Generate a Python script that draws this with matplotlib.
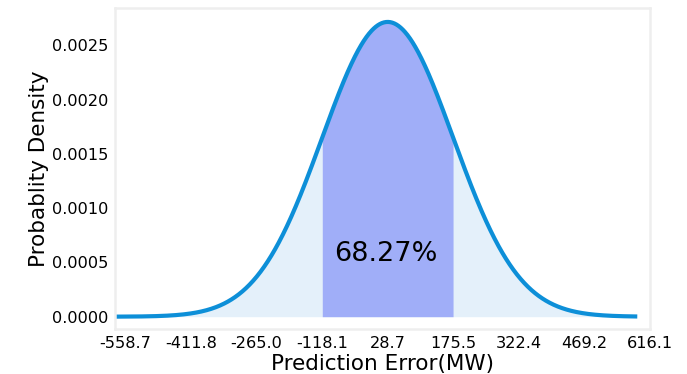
#!/usr/bin/env python3
"""
plot.py

Normal distribution of prediction error, 1-sigma band shaded.
"""

import matplotlib
matplotlib.use("Agg")
import matplotlib.pyplot as plt
import numpy as np

# values
mean_error = 28.7
std_error = 146.85
curve_start = -578.0
curve_end = 583.0
tick_values = [-558.7, -411.8, -265.0, -118.1, 28.7, 175.5, 322.4, 469.2, 616.1]
tick_labels = ["-558.7", "-411.8", "-265.0", "-118.1", "28.7", "175.5", "322.4", "469.2", "616.1"]
band_label = "68.27%"

LINE_COLOR = "#0d8fd8"
BAND_COLOR = "#a0aef8"
TAIL_COLOR = "#e4f0fa"


def normal_pdf(x, mu, sigma):
    return np.exp(-0.5 * ((x - mu) / sigma) ** 2) / (sigma * np.sqrt(2 * np.pi))


def main():
    x = np.linspace(curve_start, curve_end, 1000)
    y = normal_pdf(x, mean_error, std_error)

    fig = plt.figure(figsize=(6.87, 3.74), dpi=100)
    ax = fig.add_axes([0.1674, 0.119, 0.7787, 0.8596])

    ax.fill_between(x, y, color=TAIL_COLOR, linewidth=0)
    inside = (x >= mean_error - std_error) & (x <= mean_error + std_error)
    ax.fill_between(x[inside], y[inside], color=BAND_COLOR, linewidth=0)
    ax.plot(x, y, color=LINE_COLOR, linewidth=3.0)

    ax.text(mean_error - 4, 0.00051, band_label, fontsize=19.5, ha="center", va="baseline")

    ax.set_xlim(-582, 613)
    ax.set_ylim(-0.000118, 0.002845)
    ax.set_xticks(tick_values)
    ax.set_xticklabels(tick_labels)
    ax.set_yticks([0.0, 0.0005, 0.0010, 0.0015, 0.0020, 0.0025])
    ax.set_yticklabels(["0.0000", "0.0005", "0.0010", "0.0015", "0.0020", "0.0025"])
    ax.tick_params(length=0, labelsize=11.6, pad=5)

    for spine in ax.spines.values():
        spine.set_color("#eeeeee")
        spine.set_linewidth(1.8)

    ax.set_xlabel("Prediction Error(MW)", fontsize=15.5, labelpad=2)
    ax.set_ylabel("Probablity Density", fontsize=15.5, labelpad=2)

    fig.savefig("out.png", dpi=100)


if __name__ == "__main__":
    main()
